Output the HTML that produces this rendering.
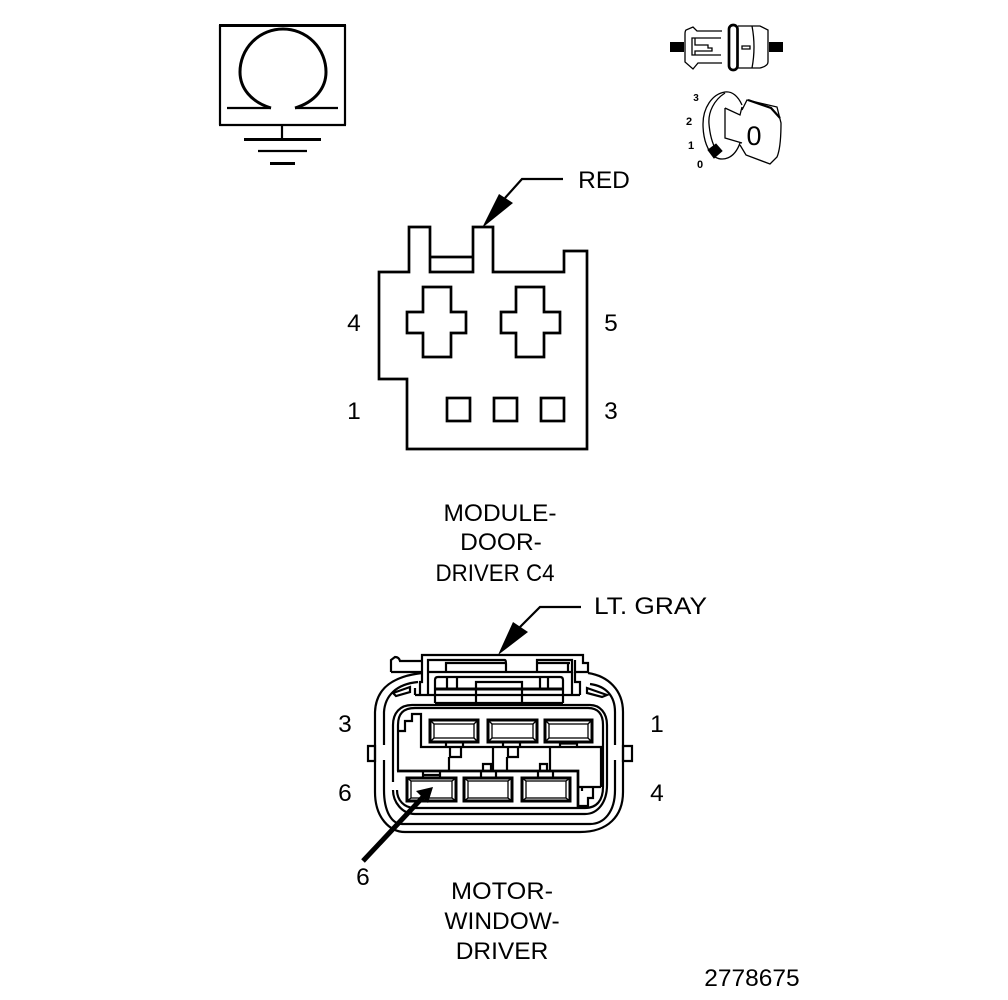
<!DOCTYPE html>
<html><head><meta charset="utf-8"><style>
html,body{margin:0;padding:0;background:#fff}
svg{display:block}
text{font-family:"Liberation Sans",sans-serif;fill:#000;font-size:24.5px;text-anchor:middle}
.l{fill:none;stroke:#000;stroke-width:2.2}
.m{fill:none;stroke:#000;stroke-width:2.7}
.t{fill:none;stroke:#000;stroke-width:1.3}
.h{fill:none;stroke:#000;stroke-width:3}
</style></head><body>
<svg width="1008" height="1000" viewBox="0 0 1008 1000" xmlns="http://www.w3.org/2000/svg">
<!-- omega symbol -->
<path d="M219 25.500H346" class="h"/>
<path d="M220 25V125M345 25V125M219 125H346" class="l"/>
<path d="M271 108C251 102 240 88 240 72A43 43 0 0 1 326 72C326 88 315 102 295 108" class="h"/>
<path d="M227 108H271M295 108H338" class="l"/>
<path d="M282 125V139" class="l"/>
<path d="M244 139.500H321" class="h"/>
<path d="M258 151H307" class="l"/>
<path d="M270 163.500H295" class="h"/>
<!-- fuse icon -->
<rect x="670" y="42" width="14" height="10" fill="#000"/>
<rect x="769" y="42" width="14" height="10" fill="#000"/>
<path d="M722 31H697L693 27L686 30Q685 31 685 34V62L693 69L698 63H722" class="t"/>
<path d="M721 38H692V55H721M695 38V45H708V48H712V51H695V55" class="t"/>
<path d="M738 26H760L768 30V62Q768 66 760 68H738" class="t"/>
<path d="M752 26Q756 47 752 68M742 46H750V49H742Z" class="t"/>
<rect x="729" y="25" width="8.500" height="45" rx="4.200" class="m"/>
<!-- key icon -->
<text x="696" y="101" style="font-size:10px;font-weight:bold">3</text>
<text x="689" y="125" style="font-size:11px;font-weight:bold">2</text>
<text x="691" y="149" style="font-size:11px;font-weight:bold">1</text>
<text x="700" y="168" style="font-size:11px;font-weight:bold">0</text>
<path d="M742 105C738 96 732 91 725 92C712 94 703 108 703 124C703 140 708 152 715 157C722 161 734 160 740 143" class="t"/>
<path d="M725 93C714 100 708 112 709 124C710 136 713 146 718 153" class="t"/>
<path d="M725 108L740 115L742 107M725 108V138L742 143" class="t"/>
<path d="M742 110L747 100L777 107L781 123C781 136 780 150 777 157L770 164L746 155L740 145" class="t"/>
<path d="M748 100L771 108L780 118" class="l"/>
<path d="M708 150L716 144L722 151L714 158Z" fill="#000" stroke="#000"/>
<text x="754" y="145" style="font-size:27px">0</text>
<!-- RED connector -->
<path d="M379 272H409V227H430V272H473V227H493V272H564V251H587V449H407V379H379Z" class="m"/>
<path d="M430 257H473" class="m"/>
<path d="M423 287H451V312H466V333H451V357H423V333H407V312H423Z" class="m"/>
<path d="M516 287H544V312H560V333H544V357H516V333H501V312H516Z" class="m"/>
<rect x="447" y="398" width="23" height="23" class="m"/>
<rect x="494" y="398" width="23" height="23" class="m"/>
<rect x="541" y="398" width="23" height="23" class="m"/>
<path d="M482 228L499 194L513 203Z" fill="#000"/>
<path d="M505 198L522 179H563" class="l"/>
<text x="604" y="188">RED</text>
<text x="354" y="331">4</text>
<text x="611" y="331">5</text>
<text x="354" y="419">1</text>
<text x="611" y="419">3</text>
<text x="500" y="521">MODULE-</text>
<text x="501" y="550">DOOR-</text>
<text x="495" y="581" textLength="119" lengthAdjust="spacingAndGlyphs">DRIVER C4</text>
<!-- LT GRAY connector -->
<path d="M498 655L513 622L528 632Z" fill="#000"/>
<path d="M520 627L540 607H581" class="l"/>
<text x="650.500" y="614" textLength="113" lengthAdjust="spacingAndGlyphs">LT. GRAY</text>
<!-- top frame -->
<path d="M391 672V660L395 657Q399 657 400 661H422M391 672H422" class="l"/>
<path d="M422 672V655H583V663H588V672H575V660" class="l"/>
<path d="M428 695V660H505Q506 660 506 664V672M446 672V663H505M428 672H573" class="l"/>
<path d="M537 672V660H572V695M537 663H570M568 663V672" class="l"/>
<path d="M435 703V680Q435 677 438 677H560Q563 677 563 680V703" class="l"/>
<path d="M447 677V689M457 677V689M540 677V689M548 677V689" class="l"/>
<path d="M476 703V682H522V703" class="l"/>
<path d="M435 689H563" class="h"/>
<path d="M415 695H580" class="l"/>
<path d="M435 703H563" class="l"/>
<!-- latches -->
<path d="M422 672V682H420V695M415 688V695M575 672V682H580V695" class="l"/>
<path d="M393 693L410 687V692L396 696ZM607 695L587 688V693L602 697Z" class="l"/>
<!-- shell -->
<path d="M422 673C396 676 376 686 375 712V792C375 818 390 832 405 832H580C608 832 623 816 623 792V712C623 690 608 676 588 673" class="l"/>
<path d="M384 745V712C385 696 396 684 418 682M615 745V712C615 696 606 686 590 684M384 760V790C384 812 392 824 402 824H590C604 824 615 812 615 790V760" class="l"/>
<path d="M393 782V725C393 713 400 705 412 705H590C600 705 607 713 607 725V785C607 802 598 814 585 814H415C402 814 393 802 393 790" class="l"/>
<path d="M398 771V725C398 714 403 708 415 708H588C598 708 603 714 603 725V787C603 800 597 808 585 808H415C404 808 397 800 397 790" class="l"/>
<path d="M398 731H405V721H412V714H421V747H601V787" class="l"/>
<!-- upper pockets -->
<rect x="430" y="720" width="48" height="22" class="h"/><rect x="434" y="724" width="40" height="14" class="t"/>
<rect x="488" y="720" width="49" height="22" class="h"/><rect x="492" y="724" width="41" height="14" class="t"/>
<rect x="545" y="720" width="47" height="22" class="h"/><rect x="549" y="724" width="39" height="14" class="t"/>
<path d="M430 720l4 4M478 720l-4 4M430 742l4-4M478 742l-4-4M488 720l4 4M537 720l-4 4M488 742l4-4M537 742l-4-4M545 720l4 4M592 720l-4 4M545 742l4-4M592 742l-4-4" class="t"/>
<path d="M446 742V747M463 742V747M450 747V757H461V747M503 742V747M520 742V747M508 747V757H518V747M560 742V747M577 742V747M560 743.500H577" class="l"/>
<path d="M449 757V771M493 747V771M507 757V771M550 747V771" class="l"/>
<!-- lower band and pockets -->
<path d="M397 771H578V808" class="m"/>
<path d="M483 771V764H491V771M540 771V764H547V771" class="l"/>
<path d="M423 771V778M440 771V778M423 775H440M481 771V778M496 771V778M538 771V778M553 771V778" class="l"/>
<rect x="407" y="778" width="49" height="23" class="h"/><rect x="411" y="781" width="41" height="17" class="t"/>
<rect x="464" y="778" width="48" height="23" class="h"/><rect x="468" y="781" width="40" height="17" class="t"/>
<rect x="522" y="778" width="48" height="23" class="h"/><rect x="526" y="781" width="40" height="17" class="t"/>
<path d="M407 778l4 3M456 778l-4 3M407 801l4-3M456 801l-4-3M464 778l4 3M512 778l-4 3M464 801l4-3M512 801l-4-3M522 778l4 3M570 778l-4 3M522 801l4-3M570 801l-4-3" class="t"/>
<path d="M578 787H601M582 788V791M593 788V798H588V806H578" class="l"/>
<path d="M368 746H375V761H368ZM623 746H632V761H623Z" class="l"/>
<!-- arrow 6 -->
<path d="M363 861L423 797" stroke="#000" stroke-width="5" fill="none"/>
<path d="M433 787L416 791L428 803Z" fill="#000"/>
<text x="345" y="732">3</text>
<text x="657" y="732">1</text>
<text x="345" y="801">6</text>
<text x="657" y="801">4</text>
<text x="363" y="885">6</text>
<text x="502" y="899" textLength="102" lengthAdjust="spacingAndGlyphs">MOTOR-</text>
<text x="502" y="929">WINDOW-</text>
<text x="502" y="959">DRIVER</text>
<text x="752" y="986">2778675</text>
</svg>
</body></html>
